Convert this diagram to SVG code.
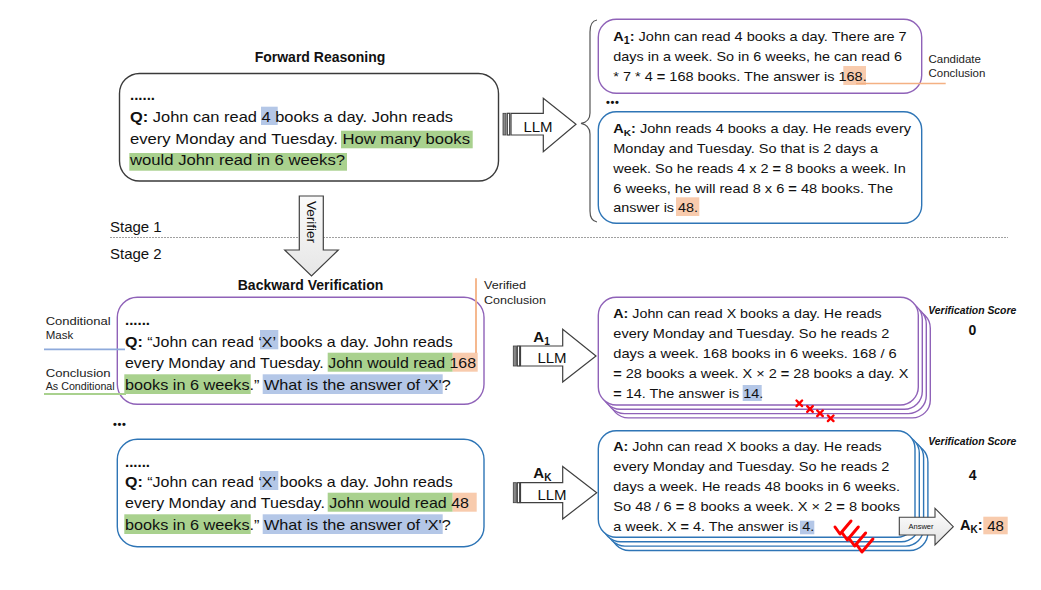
<svg xmlns="http://www.w3.org/2000/svg" width="1041" height="590" viewBox="0 0 1041 590">
<defs>
<style>
.t{font-family:"Liberation Sans",Arial,sans-serif;fill:#111;}
.q{font-size:15px;}
.a{font-size:13.6px;}
.b{font-weight:bold;}
.title{font-family:"Liberation Sans",Arial,sans-serif;font-size:14px;font-weight:bold;fill:#111;text-anchor:middle;}
.lbl{font-family:"Liberation Sans",Arial,sans-serif;font-size:11.5px;fill:#222;}
.hb{fill:#b4c7e7;}
.hg{fill:#a9d18e;}
.ho{fill:#f8cbad;}
.box{fill:#fff;stroke-width:1.4;}
.dark{stroke:#3a3a3a;}
.pur{stroke:#8f62b8;}
.blu{stroke:#2e75b6;}
.arr{fill:#fff;stroke:#404040;stroke-width:1.2;}
.bar{fill:#8a8a8a;stroke:#404040;stroke-width:0.8;}
.vs{font-family:"Liberation Sans",Arial,sans-serif;font-size:10.5px;font-weight:bold;font-style:italic;fill:#111;}
.sc{font-family:"Liberation Sans",Arial,sans-serif;font-size:14px;font-weight:bold;fill:#111;text-anchor:middle;}
.x{stroke:#ff0000;stroke-width:2.4;stroke-linecap:round;}
.ck{fill:none;stroke:#ff0000;stroke-width:3;stroke-linecap:round;stroke-linejoin:round;}
</style>
<linearGradient id="gv" x1="0" y1="0" x2="0" y2="1"><stop offset="0" stop-color="#fafafa"/><stop offset="1" stop-color="#e6e6e6"/></linearGradient>
<linearGradient id="ga" x1="0" y1="0" x2="0" y2="1"><stop offset="0" stop-color="#ffffff"/><stop offset="1" stop-color="#e2e2e2"/></linearGradient>
</defs>
<rect width="1041" height="590" fill="#fff"/>

<!-- stage separator -->
<g id="stages">
<line x1="110" y1="237.5" x2="1008" y2="237.5" stroke="#a0a0a0" stroke-width="1" stroke-dasharray="2,1"/>
<text class="t q" x="110" y="232">Stage 1</text>
<text class="t q" x="110" y="258.5">Stage 2</text>
</g>

<!-- Forward reasoning question -->
<g id="forward-question">
<text class="title" x="320" y="62">Forward Reasoning</text>
<rect class="box dark" x="119.5" y="73.5" width="379" height="107.5" rx="20"/>
<rect class="hb" x="261" y="106.7" width="16.7" height="18.3"/>
<rect class="hg" x="341" y="130.7" width="131.7" height="17.6"/>
<rect class="hg" x="129.3" y="153" width="217.7" height="17.7"/>
<text class="t q b" x="130" y="100">......</text>
<text class="t q" x="130" y="122" textLength="323" lengthAdjust="spacingAndGlyphs"><tspan class="b">Q:</tspan>  John can read 4 books a day. John reads</text>
<text class="t q" x="130" y="143.5" textLength="340" lengthAdjust="spacingAndGlyphs">every Monday and Tuesday. How many books</text>
<text class="t q" x="130" y="165" textLength="215" lengthAdjust="spacingAndGlyphs">would John read in 6 weeks?</text>
</g>

<!-- Candidate answers -->
<g id="candidate-a1">
<rect class="box pur" x="598.3" y="19.3" width="323.4" height="74" rx="18"/>
<rect class="ho" x="843.3" y="66" width="22.7" height="19"/>
<text class="t a" x="613.3" y="40.7" textLength="293.4" lengthAdjust="spacingAndGlyphs"><tspan class="b">A</tspan><tspan class="b" font-size="10" dy="3">1</tspan><tspan class="b" dy="-3">:</tspan> John can read 4 books a day. There are 7</text>
<text class="t a" x="613.3" y="60.7" textLength="288.7" lengthAdjust="spacingAndGlyphs">days in a week. So in 6 weeks, he can read 6</text>
<text class="t a" x="613.3" y="80.7" textLength="253.4" lengthAdjust="spacingAndGlyphs">* 7 * 4 <tspan class="b">=</tspan> 168 books. The answer is 168.</text>
<text class="lbl" x="928.5" y="63.3">Candidate</text>
<text class="lbl" x="928.5" y="77.3">Conclusion</text>
</g>
<g id="ellipsis-top">
<text class="t b" x="606" y="106" font-size="11" letter-spacing="0.6">•••</text>
</g>
<g id="candidate-ak">
<rect class="box blu" x="598.3" y="111.7" width="323.4" height="111.6" rx="18"/>
<rect class="ho" x="676" y="197.3" width="23.3" height="18.7"/>
<text class="t a" x="613.3" y="133.3" textLength="297.7" lengthAdjust="spacingAndGlyphs"><tspan class="b">A</tspan><tspan class="b" font-size="9.5" dy="3">K</tspan><tspan class="b" dy="-3">:</tspan> John reads 4 books a day. He reads every</text>
<text class="t a" x="613.3" y="153.3" textLength="264.7" lengthAdjust="spacingAndGlyphs">Monday and Tuesday. So that is 2 days a</text>
<text class="t a" x="613.3" y="173" textLength="292.4" lengthAdjust="spacingAndGlyphs">week. So he reads 4 x 2 <tspan class="b">=</tspan> 8 books a week. In</text>
<text class="t a" x="613.3" y="192.5" textLength="279.7" lengthAdjust="spacingAndGlyphs">6 weeks, he will read 8 x 6 <tspan class="b">=</tspan> 48 books. The</text>
<text class="t a" x="613.3" y="211.8" textLength="84.7" lengthAdjust="spacingAndGlyphs">answer is 48.</text>
</g>

<!-- Backward verification question 1 -->
<g id="backward-q1">
<text class="title" x="310.5" y="290">Backward Verification</text>
<rect class="box pur" x="117.3" y="297.3" width="366.7" height="107" rx="20"/>
<rect class="hb" x="260" y="330" width="18.3" height="19.3"/>
<rect class="hg" x="327.7" y="352.7" width="125" height="19"/>
<rect class="ho" x="452.7" y="352.7" width="25" height="19"/>
<rect class="hg" x="124.3" y="374.3" width="126.4" height="19.7"/>
<rect class="hb" x="262.7" y="374.3" width="180" height="19.7"/>
<text class="t q b" x="125" y="325">......</text>
<text class="t q" x="125" y="346.7" textLength="327.7" lengthAdjust="spacingAndGlyphs"><tspan class="b">Q:</tspan>  “John can read ‘X’ books a day. John reads</text>
<text class="t q" x="125" y="368.3" textLength="351" lengthAdjust="spacingAndGlyphs">every Monday and Tuesday. John would read 168</text>
<text class="t q" x="125" y="390" textLength="325.7" lengthAdjust="spacingAndGlyphs">books in 6 weeks.” What is the answer of 'X'?</text>
</g>
<g id="labels">
<text class="lbl" x="45.7" y="325" textLength="65" lengthAdjust="spacingAndGlyphs">Conditional</text>
<text class="lbl" x="45.7" y="338.5">Mask</text>
<text class="lbl" x="45.7" y="377" textLength="65" lengthAdjust="spacingAndGlyphs">Conclusion</text>
<text class="lbl" x="45.7" y="390" font-size="10" textLength="69" lengthAdjust="spacingAndGlyphs">As Conditional</text>
<text class="lbl" x="484" y="288.5" textLength="42" lengthAdjust="spacingAndGlyphs">Verified</text>
<text class="lbl" x="484" y="303.5" textLength="62" lengthAdjust="spacingAndGlyphs">Conclusion</text>
</g>
<g id="ellipsis-bottom">
<text class="t b" x="113" y="428" font-size="11" letter-spacing="0.6">•••</text>
</g>

<!-- Backward verification question K -->
<g id="backward-qk">
<rect class="box blu" x="117.3" y="439.3" width="366.7" height="107.4" rx="20"/>
<rect class="hb" x="260" y="471" width="18.3" height="19"/>
<rect class="hg" x="327.7" y="492.7" width="125" height="19"/>
<rect class="ho" x="452.7" y="492.7" width="24" height="19"/>
<rect class="hg" x="124.3" y="514.3" width="126.4" height="19.7"/>
<rect class="hb" x="262.7" y="514.3" width="180" height="19.7"/>
<text class="t q b" x="125" y="466.7">......</text>
<text class="t q" x="125" y="486.7" textLength="327.7" lengthAdjust="spacingAndGlyphs"><tspan class="b">Q:</tspan>  “John can read ‘X’ books a day. John reads</text>
<text class="t q" x="125" y="508.3" textLength="344" lengthAdjust="spacingAndGlyphs">every Monday and Tuesday. John would read 48</text>
<text class="t q" x="125" y="530" textLength="325.7" lengthAdjust="spacingAndGlyphs">books in 6 weeks.” What is the answer of 'X'?</text>
</g>

<!-- Backward answer 1 (stacked) -->
<g id="verify-a1">
<rect class="box pur" x="610.3" y="310.2" width="320" height="107.7" rx="18"/>
<rect class="box pur" x="606.3" y="305.9" width="320" height="107.7" rx="18"/>
<rect class="box pur" x="602.3" y="301.6" width="320" height="107.7" rx="18"/>
<rect class="box pur" x="598.3" y="297.3" width="320" height="107.7" rx="18"/>
<rect class="hb" x="742.7" y="385" width="19" height="16"/>
<text class="t a" x="613.3" y="318.3" textLength="268.4" lengthAdjust="spacingAndGlyphs"><tspan class="b">A:</tspan> John can read X books a day. He reads</text>
<text class="t a" x="613.3" y="338.3" textLength="276" lengthAdjust="spacingAndGlyphs">every Monday and Tuesday. So he reads 2</text>
<text class="t a" x="613.3" y="358.3" textLength="283.4" lengthAdjust="spacingAndGlyphs">days a week. 168 books in 6 weeks. 168 / 6</text>
<text class="t a" x="613.3" y="378.3" textLength="295" lengthAdjust="spacingAndGlyphs"><tspan class="b">=</tspan> 28 books a week. X × 2 <tspan class="b">=</tspan> 28 books a day. X</text>
<text class="t a" x="613.3" y="398" textLength="150" lengthAdjust="spacingAndGlyphs"><tspan class="b">=</tspan> 14. The answer is 14.</text>
<text class="vs" x="928.3" y="314" textLength="88" lengthAdjust="spacingAndGlyphs">Verification Score</text>
<text class="sc" x="972.3" y="335">0</text>
<line class="x" x1="796.5" y1="400.5" x2="802.1" y2="406.1"/><line class="x" x1="802.1" y1="400.5" x2="796.5" y2="406.1"/>
<line class="x" x1="807.2" y1="406.2" x2="812.8" y2="411.8"/><line class="x" x1="812.8" y1="406.2" x2="807.2" y2="411.8"/>
<line class="x" x1="817.2" y1="410.5" x2="822.8" y2="416.1"/><line class="x" x1="822.8" y1="410.5" x2="817.2" y2="416.1"/>
<line class="x" x1="827.9" y1="415.5" x2="833.5" y2="421.1"/><line class="x" x1="833.5" y1="415.5" x2="827.9" y2="421.1"/>
</g>

<!-- Backward answer K (stacked) -->
<g id="verify-ak">
<rect class="box blu" x="611.2" y="443.9" width="316.7" height="106.6" rx="18"/>
<rect class="box blu" x="606.9" y="439.5" width="316.7" height="106.6" rx="18"/>
<rect class="box blu" x="602.6" y="435.1" width="316.7" height="106.6" rx="18"/>
<rect class="box blu" x="598.3" y="430.7" width="316.7" height="106.6" rx="18"/>
<rect class="hb" x="800" y="520.7" width="14.3" height="13.6"/>
<text class="t a" x="613.3" y="450.7" textLength="268.4" lengthAdjust="spacingAndGlyphs"><tspan class="b">A:</tspan> John can read X books a day. He reads</text>
<text class="t a" x="613.3" y="470.7" textLength="276" lengthAdjust="spacingAndGlyphs">every Monday and Tuesday. So he reads 2</text>
<text class="t a" x="613.3" y="490.7" textLength="286.7" lengthAdjust="spacingAndGlyphs">days a week. He reads 48 books in 6 weeks.</text>
<text class="t a" x="613.3" y="510.7" textLength="286.7" lengthAdjust="spacingAndGlyphs">So 48 / 6 <tspan class="b">=</tspan> 8 books a week. X × 2 <tspan class="b">=</tspan> 8 books</text>
<text class="t a" x="613.3" y="530.7" textLength="201" lengthAdjust="spacingAndGlyphs">a week. X <tspan class="b">=</tspan> 4. The answer is 4.</text>
<text class="vs" x="928.3" y="445" textLength="88" lengthAdjust="spacingAndGlyphs">Verification Score</text>
<text class="sc" x="972.7" y="480">4</text>
<path class="ck" d="M835,527 l5,7 l11,-13"/>
<path class="ck" d="M842.3,533 l5,7 l11,-13"/>
<path class="ck" d="M849.6,539 l5,7 l11,-13"/>
<path class="ck" d="M856.9,545 l5,7 l11,-13"/>
</g>

<!-- Final answer -->
<g id="final-answer">
<rect class="ho" x="983.3" y="516.7" width="24.4" height="17.6"/>
<text class="t b" x="960" y="530" font-size="14.5">A<tspan font-size="10" dy="3">K</tspan><tspan dy="-3">:</tspan></text>
<text class="t" x="995.5" y="530.5" font-size="15" text-anchor="middle">48</text>
</g>

<!-- Connectors -->
<g id="connectors">
<!-- brace -->
<path d="M597,20 Q590,21 590,32 V113 Q590,122 581,123.3 Q590,125 590,134 V211 Q590,221 597,222" fill="none" stroke="#555" stroke-width="1.2"/>
<!-- candidate conclusion line -->
<line x1="856" y1="83.5" x2="945.7" y2="83.5" stroke="#f4b183" stroke-width="1.5"/>
<!-- verified conclusion line -->
<line x1="476" y1="278.3" x2="476" y2="353" stroke="#f4b183" stroke-width="1.8"/>
<!-- label lines -->
<line x1="44" y1="349.3" x2="125" y2="349.3" stroke="#8eaadb" stroke-width="1.8"/>
<line x1="44" y1="394" x2="126" y2="394" stroke="#a9d18e" stroke-width="1.8"/>

<!-- forward LLM arrow -->
<g id="arrow-llm-forward">
<rect class="bar" x="503" y="113.3" width="3" height="21.7"/>
<rect class="arr" x="507.3" y="113.3" width="2.4" height="21.7"/>
<path class="arr" d="M511,113.3 H543.3 V98.3 L576,124.2 L543.3,151.7 V135 H511 Z"/>
<text class="t" x="538" y="131.5" font-size="15" text-anchor="middle">LLM</text>
</g>

<!-- verifier arrow -->
<g id="arrow-verifier">
<path d="M299.3,196 H323.3 V250 H338.3 L311.5,276 L284.7,250 H299.3 Z" fill="url(#gv)" stroke="#404040" stroke-width="1.2"/>
<text class="t" transform="translate(311.5,222) rotate(90)" x="0" y="5" font-size="13.5" text-anchor="middle">Verifier</text>
</g>

<!-- backward LLM arrow A1 -->
<g id="arrow-llm-a1">
<text class="t b" x="533.3" y="341.7" font-size="15">A<tspan font-size="10" dy="3">1</tspan></text>
<rect class="bar" x="513.3" y="346" width="3" height="20"/>
<rect class="arr" x="517.3" y="346" width="2.4" height="20"/>
<path class="arr" d="M520.5,346 H562.7 V329.3 L596,356 L562.7,382 V366 H520.5 Z"/>
<text class="t" x="552" y="363" font-size="15" text-anchor="middle">LLM</text>
</g>

<!-- backward LLM arrow AK -->
<g id="arrow-llm-ak">
<text class="t b" x="533.3" y="478.3" font-size="15">A<tspan font-size="10" dy="3">K</tspan></text>
<rect class="bar" x="513.3" y="482.7" width="3" height="20"/>
<rect class="arr" x="517.3" y="482.7" width="2.4" height="20"/>
<path class="arr" d="M520.5,482.7 H562.7 V466.5 L596.7,492.7 L562.7,519 V502.7 H520.5 Z"/>
<text class="t" x="552" y="499.5" font-size="15" text-anchor="middle">LLM</text>
</g>

<!-- answer arrow -->
<g id="arrow-answer">
<path d="M899.3,517.3 H935 V508.3 L953.3,526.7 L935,545 V535 H899.3 Z" fill="url(#ga)" stroke="#404040" stroke-width="1.1"/>
<text class="t" x="921" y="529.3" font-size="7.5" text-anchor="middle">Answer</text>
</g>
</g>
</svg>
